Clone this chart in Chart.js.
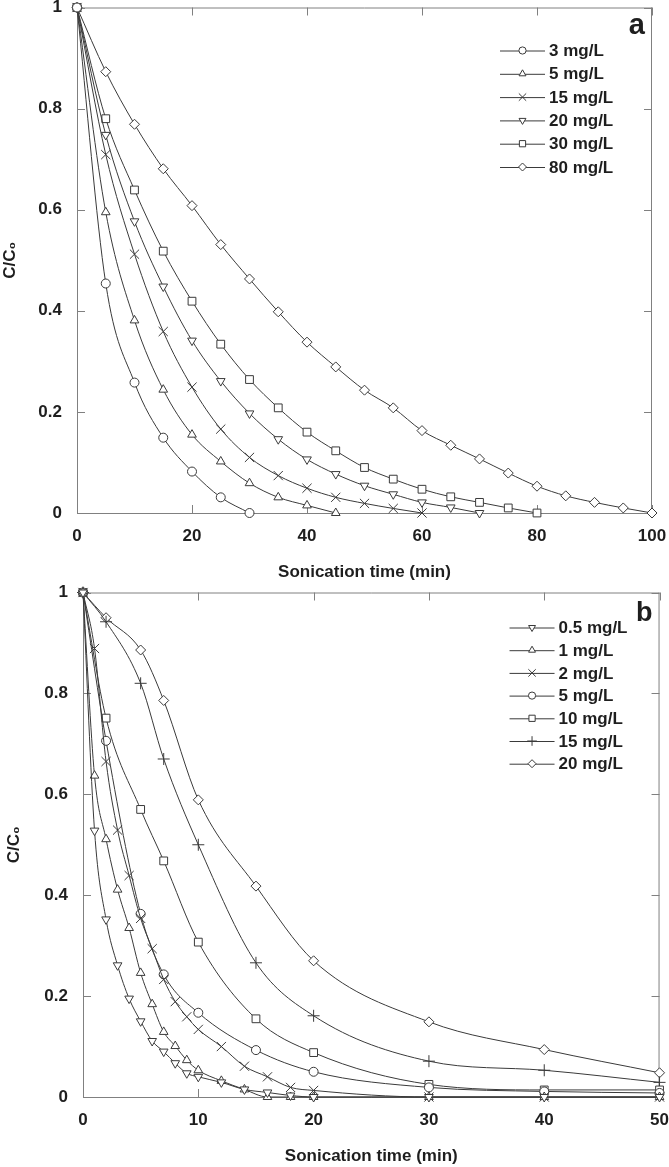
<!DOCTYPE html>
<html>
<head>
<meta charset="utf-8">
<script src="https://cdn.jsdelivr.net/npm/chart.js@4.4.0/dist/chart.umd.min.js"></script>
<style>
  html, body { margin: 0; padding: 0; background: #fff; }
  canvas { display: block; }
</style>
</head>
<body>
<canvas id="chartA" width="669" height="585"></canvas>
<canvas id="chartB" width="669" height="582"></canvas>
<script>
// ---- panel a data ----
const timeA = [0, 5, 10, 15, 20, 25, 30, 35, 40, 45, 50, 55, 60, 65, 70, 75, 80, 85, 90, 95, 100];
const labelsA = ['3 mg/L', '5 mg/L', '15 mg/L', '20 mg/L', '30 mg/L', '80 mg/L'];
const a3 = [1, 0.454, 0.258, 0.149, 0.082, 0.031, 0];
const a5 = [1, 0.595, 0.381, 0.244, 0.155, 0.102, 0.059, 0.031, 0.015, 0];
const a15 = [1, 0.709, 0.512, 0.359, 0.249, 0.166, 0.110, 0.074, 0.049, 0.031, 0.019, 0.009, 0];
const a20 = [1, 0.748, 0.577, 0.448, 0.341, 0.261, 0.197, 0.146, 0.106, 0.077, 0.054, 0.037, 0.021, 0.011, 0];
const a30 = [1, 0.780, 0.639, 0.518, 0.419, 0.334, 0.264, 0.208, 0.160, 0.123, 0.090, 0.067, 0.047, 0.032, 0.021, 0.010, 0];
const a80 = [1, 0.873, 0.769, 0.681, 0.608, 0.531, 0.463, 0.398, 0.338, 0.289, 0.243, 0.208, 0.163, 0.134, 0.107, 0.079, 0.053, 0.034, 0.021, 0.010, 0];

// ---- panel b data ----
const timeFine = [0, 1, 2, 3, 4, 5, 6, 7, 8, 9, 10, 12, 14, 16, 18, 20, 30, 40, 50];
const timeCoarse = [0, 2, 5, 7, 10, 15, 20, 30, 40, 50];
const labelsB = ['0.5 mg/L', '1 mg/L', '2 mg/L', '5 mg/L', '10 mg/L', '15 mg/L', '20 mg/L'];
const b05 = [1, 0.528, 0.352, 0.261, 0.195, 0.150, 0.111, 0.090, 0.067, 0.047, 0.040, 0.029, 0.015, 0.009, 0.003, 0, 0, 0, 0];
const b1 = [1, 0.637, 0.511, 0.411, 0.335, 0.246, 0.184, 0.129, 0.101, 0.073, 0.053, 0.032, 0.015, 0, 0, 0, 0, 0, 0];
const b2 = [1, 0.889, 0.665, 0.529, 0.439, 0.354, 0.294, 0.233, 0.189, 0.159, 0.134, 0.100, 0.061, 0.040, 0.019, 0.013, 0, 0, 0];
const b5 = [1, 0.706, 0.363, 0.243, 0.167, 0.093, 0.050, 0.019, 0.011, 0.008];
const b10 = [1, 0.751, 0.570, 0.468, 0.307, 0.155, 0.088, 0.025, 0.014, 0.014];
const b15 = [1, 0.942, 0.820, 0.670, 0.500, 0.266, 0.161, 0.071, 0.053, 0.029];
const b20 = [1, 0.950, 0.886, 0.786, 0.589, 0.418, 0.270, 0.149, 0.094, 0.048];

const FONT = "'Liberation Sans', Arial, sans-serif";
const LINE = '#3a3a3a';
const AXIS = '#808080';
const TEXT = '#1e1e1e';

function pts(times, vals) {
  return vals.map((v, i) => ({ x: times[i], y: v }));
}

function series(label, times, vals, style, radius, rotation) {
  return {
    label: label,
    data: pts(times, vals),
    borderColor: LINE,
    borderWidth: 1,
    pointStyle: style,
    pointRadius: radius,
    pointRotation: rotation || 0,
    pointBorderColor: LINE,
    pointBackgroundColor: '#fff',
    pointBorderWidth: 1,
    cubicInterpolationMode: 'monotone',
    clip: false
  };
}

// frame on top/right and inward ticks on all sides
const framePlugin = {
  id: 'frame',
  beforeDatasetsDraw(chart) {
    const { ctx, chartArea: ca, scales } = chart;
    const len = 8;
    ctx.save();
    ctx.strokeStyle = AXIS;
    ctx.lineWidth = 1;
    ctx.beginPath();
    ctx.moveTo(ca.left, ca.top + 0.5);
    ctx.lineTo(ca.right, ca.top + 0.5);
    ctx.moveTo(ca.right - 0.5, ca.top);
    ctx.lineTo(ca.right - 0.5, ca.bottom);
    scales.x.ticks.forEach(t => {
      const px = Math.round(scales.x.getPixelForValue(t.value)) + 0.5;
      ctx.moveTo(px, ca.bottom); ctx.lineTo(px, ca.bottom - len);
      ctx.moveTo(px, ca.top); ctx.lineTo(px, ca.top + len);
    });
    scales.y.ticks.forEach(t => {
      const py = Math.round(scales.y.getPixelForValue(t.value)) + 0.5;
      ctx.moveTo(ca.left, py); ctx.lineTo(ca.left + len, py);
      ctx.moveTo(ca.right, py); ctx.lineTo(ca.right - len, py);
    });
    ctx.stroke();
    ctx.restore();
  }
};

// legend with line + marker samples, and panel letter
const legendPlugin = {
  id: 'inlineLegend',
  afterDatasetsDraw(chart, args, opts) {
    const { ctx, chartArea: ca } = chart;
    ctx.save();
    chart.data.datasets.forEach((ds, i) => {
      const y = ca.top + opts.top + i * opts.step;
      const x0 = ca.right - opts.lineStart;
      const x1 = x0 + 45;
      ctx.strokeStyle = LINE;
      ctx.lineWidth = 1;
      ctx.beginPath();
      ctx.moveTo(x0, y + 0.5);
      ctx.lineTo(x1, y + 0.5);
      ctx.stroke();
      ctx.fillStyle = '#fff';
      Chart.helpers.drawPoint(ctx, {
        pointStyle: ds.pointStyle,
        rotation: ds.pointRotation,
        radius: ds.pointRadius * 0.8,
        borderWidth: 1
      }, (x0 + x1) / 2, y);
      ctx.fillStyle = TEXT;
      ctx.font = 'bold 17px ' + FONT;
      ctx.textAlign = 'left';
      ctx.textBaseline = 'middle';
      ctx.fillText(ds.label, x1 + 4, y + 1);
    });
    ctx.font = 'bold ' + opts.letterSize + 'px ' + FONT;
    ctx.textAlign = 'right';
    ctx.textBaseline = 'alphabetic';
    ctx.fillText(opts.letter, ca.right - opts.letterRight, ca.top + opts.letterBase);
    ctx.restore();
  }
};

function makeChart(id, datasets, cfg) {
  const tickFont = { family: FONT, size: 17, weight: 'bold', lineHeight: 0.8 };
  return new Chart(document.getElementById(id), {
    type: 'line',
    data: { datasets: datasets },
    plugins: [framePlugin, legendPlugin],
    options: {
      responsive: false,
      animation: false,
      layout: { padding: { left: 0, right: cfg.padRight, top: cfg.padTop, bottom: 0 } },
      plugins: {
        legend: { display: false },
        tooltip: { enabled: false },
        inlineLegend: cfg.legend
      },
      scales: {
        x: {
          type: 'linear',
          min: 0,
          max: cfg.xMax,
          afterFit: s => { s.height = cfg.xHeight; },
          // invisible tick marks give the label gap without padding the chart edges
          grid: { display: true, drawOnChartArea: false, drawTicks: true, tickLength: 17, tickColor: 'rgba(0,0,0,0)' },
          border: { display: true, color: AXIS, width: 1 },
          ticks: { stepSize: cfg.xStep, padding: 0, color: TEXT, font: tickFont },
          title: {
            display: true,
            text: 'Sonication time (min)',
            color: TEXT,
            font: { family: FONT, size: 17, weight: 'bold' },
            padding: { top: 0, bottom: cfg.xTitlePad }
          }
        },
        y: {
          type: 'linear',
          min: 0,
          max: 1,
          afterFit: s => { s.width = cfg.yWidth; },
          grid: { display: true, drawOnChartArea: false, drawTicks: true, tickLength: 15, tickColor: 'rgba(0,0,0,0)' },
          border: { display: true, color: AXIS, width: 1 },
          ticks: {
            stepSize: 0.2,
            padding: 0,
            color: TEXT,
            font: tickFont,
            callback: v => Math.round(v * 10) / 10
          },
          title: {
            display: true,
            text: 'C/C\u2080',
            color: TEXT,
            font: { family: FONT, size: 17, weight: 'bold' },
            padding: { top: cfg.yTitlePad, bottom: 0 }
          }
        }
      }
    }
  });
}

makeChart('chartA', [
  series(labelsA[0], timeA, a3, 'circle', 4.5),
  series(labelsA[1], timeA, a5, 'triangle', 5),
  series(labelsA[2], timeA, a15, 'crossRot', 6.5),
  series(labelsA[3], timeA, a20, 'triangle', 5, 180),
  series(labelsA[4], timeA, a30, 'rect', 5.5),
  series(labelsA[5], timeA, a80, 'rectRot', 5)
], {
  xMax: 100, xStep: 20, padRight: 17, padTop: 7, xHeight: 72, yWidth: 77,
  xTitlePad: 2, yTitlePad: 0,
  legend: { top: 43, step: 23.3, lineStart: 152, letter: 'a', letterSize: 29, letterRight: 7, letterBase: 26 }
});

makeChart('chartB', [
  series(labelsB[0], timeFine, b05, 'triangle', 5, 180),
  series(labelsB[1], timeFine, b1, 'triangle', 5),
  series(labelsB[2], timeFine, b2, 'crossRot', 6.5),
  series(labelsB[3], timeCoarse, b5, 'circle', 4.5),
  series(labelsB[4], timeCoarse, b10, 'rect', 5.5),
  series(labelsB[5], timeCoarse, b15, 'cross', 6),
  series(labelsB[6], timeCoarse, b20, 'rectRot', 5)
], {
  xMax: 50, xStep: 10, padRight: 9, padTop: 7, xHeight: 70, yWidth: 83,
  xTitlePad: 0, yTitlePad: 4,
  legend: { top: 35, step: 22.7, lineStart: 150, letter: 'b', letterSize: 27, letterRight: 7, letterBase: 28 }
});
</script>
</body>
</html>
